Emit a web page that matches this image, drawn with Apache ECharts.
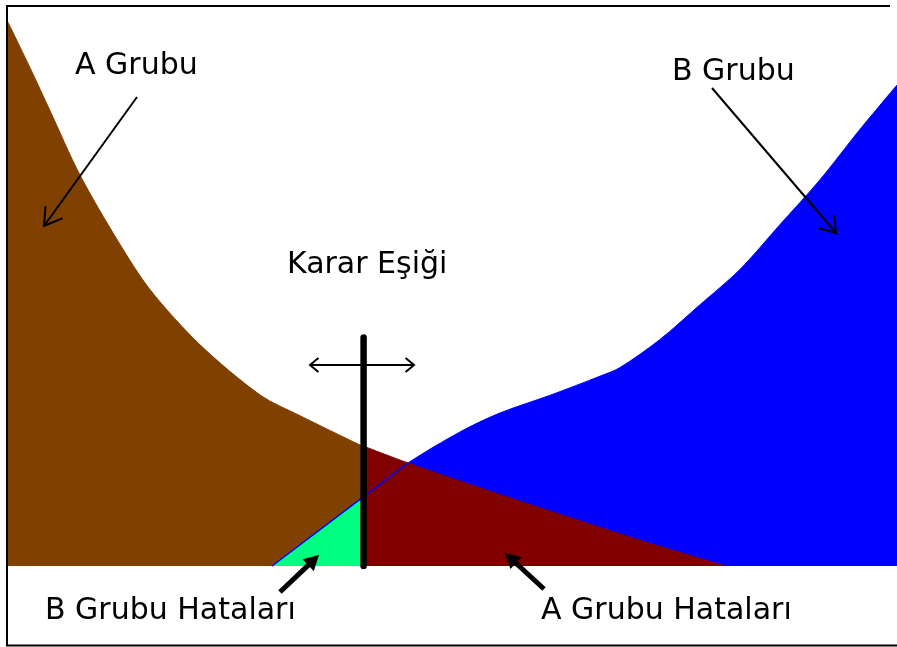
<!DOCTYPE html>
<html>
<head>
<meta charset="utf-8">
<style>
html, body { margin: 0; padding: 0; background: #fff; }
#chart { width: 897px; height: 647px; }
</style>
<script src="https://cdn.jsdelivr.net/npm/echarts@6/dist/echarts.min.js"></script>
</head>
<body>
<div id="chart"></div>
<script>
// A grubu (kahverengi) dağılımı: [x, yoğunluk]
var grupA = [[0, 97.1], [2.5, 88.9], [4.7, 81.4], [8.1, 69.8], [12.3, 58.2], [16, 49.3],
    [21.6, 39.5], [28.4, 30.5], [32.9, 26.8], [39.6, 21.6], [40, 21.4], [45, 18.4],
    [50.8, 15.2], [61, 9.8], [71.1, 4.6], [80.7, 0]];
// B grubu (mavi) dağılımı
var grupB = [[29.7, 0], [40, 12.4], [45, 18.4], [50.8, 23.9], [55.3, 27.3], [61, 30.5],
    [66.6, 33.9], [68.8, 35.4], [73.3, 40.4], [77.8, 46.6], [82.3, 52.9], [86.8, 60.9],
    [91.3, 68.9], [95.8, 77.9], [100, 85.9]];
var esik = 40;        // karar eşiği
var esikBoy = 40.8;   // eşik çizgisinin yüksekliği
var kesisim = 45;     // iki eğrinin kesiştiği x

var chart = echarts.init(document.getElementById('chart'));

var FONT = '30px "DejaVu Sans"';

// ok çizimi (açık uçlu ya da dolu uçlu)
function ok(x1, y1, x2, y2, opt) {
    var a = Math.atan2(y1 - y2, x1 - x2);
    var len = opt.len, ang = opt.ang;
    var p1 = [x2 + len * Math.cos(a + ang), y2 + len * Math.sin(a + ang)];
    var p2 = [x2 + len * Math.cos(a - ang), y2 + len * Math.sin(a - ang)];
    var els = [];
    if (opt.fill) {
        var bx = x2 + len * 0.8 * Math.cos(a), by = y2 + len * 0.8 * Math.sin(a);
        els.push({ type: 'line', z: 100, shape: { x1: x1, y1: y1, x2: bx, y2: by },
            style: { stroke: '#000', lineWidth: opt.w } });
        els.push({ type: 'polygon', z: 100, shape: { points: [p1, [x2, y2], p2] },
            style: { fill: '#000' } });
    } else {
        els.push({ type: 'line', z: 100, shape: { x1: x1, y1: y1, x2: x2, y2: y2 },
            style: { stroke: '#000', lineWidth: opt.w } });
        els.push({ type: 'polyline', z: 100, shape: { points: [p1, [x2, y2], p2] },
            style: { stroke: '#000', lineWidth: opt.w, fill: null } });
    }
    return els;
}

function yazi(text, x, y) {
    return { type: 'text', z: 100, x: x, y: y, style: { text: text, fill: '#000', font: FONT,
        align: 'left', verticalAlign: 'middle' } };
}

var graphics = [
    // çerçeve
    { type: 'line', z: 100, shape: { x1: 6, y1: 6, x2: 890, y2: 6 }, style: { stroke: '#000', lineWidth: 2 } },
    { type: 'line', z: 100, shape: { x1: 7, y1: 5, x2: 7, y2: 646 }, style: { stroke: '#000', lineWidth: 2 } },
    { type: 'line', z: 100, shape: { x1: 6, y1: 645.5, x2: 897, y2: 645.5 }, style: { stroke: '#000', lineWidth: 2 } },
    yazi('A Grubu', 75, 66),
    yazi('B Grubu', 672, 72),
    yazi('Karar Eşiği', 287, 265),
    yazi('B Grubu Hataları', 45, 611),
    yazi('A Grubu Hataları', 541, 611)
];
graphics = graphics
    .concat(ok(137, 97, 44, 226, { len: 20, ang: 0.55, w: 2 }))
    .concat(ok(712, 88, 836, 233, { len: 18, ang: 0.6, w: 2 }))
    .concat(ok(362, 365, 310, 365, { len: 11, ang: 0.7, w: 2 }))
    .concat(ok(362, 365, 414, 365, { len: 11, ang: 0.7, w: 2 }))
    .concat(ok(280, 592, 319, 555, { len: 17, ang: 0.5, w: 5, fill: true }))
    .concat(ok(544, 589, 505, 553, { len: 17, ang: 0.5, w: 5, fill: true }));

function alan(name, data, color, z) {
    return {
        name: name, type: 'line', data: data, z: z, symbol: 'none', silent: true,
        smooth: 0.3,
        lineStyle: { color: color, width: 1 },
        areaStyle: { color: color, opacity: 1 }
    };
}

var option = {
    animation: false,
    grid: { left: 8, right: 0, top: 6, bottom: 81 },
    xAxis: { type: 'value', min: 0, max: 100, show: false },
    yAxis: { type: 'value', min: 0, max: 100, show: false },
    graphic: graphics,
    series: [
        alan('B Grubu', grupB, '#0000ff', 1),
        alan('A Grubu', grupA.filter(function (p) { return p[0] <= esik; }), '#804000', 2),
        alan('B Grubu Hataları', grupB.filter(function (p) { return p[0] <= esik; }), '#00ff80', 3),
        alan('A Grubu Hataları', grupA.filter(function (p) { return p[0] >= esik; }), '#800000', 3),
        {
            name: 'B sınır', type: 'line', z: 4, symbol: 'none', silent: true,
            data: grupB.filter(function (p) { return p[0] <= kesisim; }),
            lineStyle: { color: '#0000ff', width: 1.5 }
        },
        {
            name: 'Karar Eşiği', type: 'line', z: 5, symbol: 'none', silent: true,
            data: [[esik, 0], [esik, esikBoy]],
            lineStyle: { color: '#000', width: 6.5, cap: 'round' }
        }
    ]
};

chart.setOption(option);
</script>
</body>
</html>
